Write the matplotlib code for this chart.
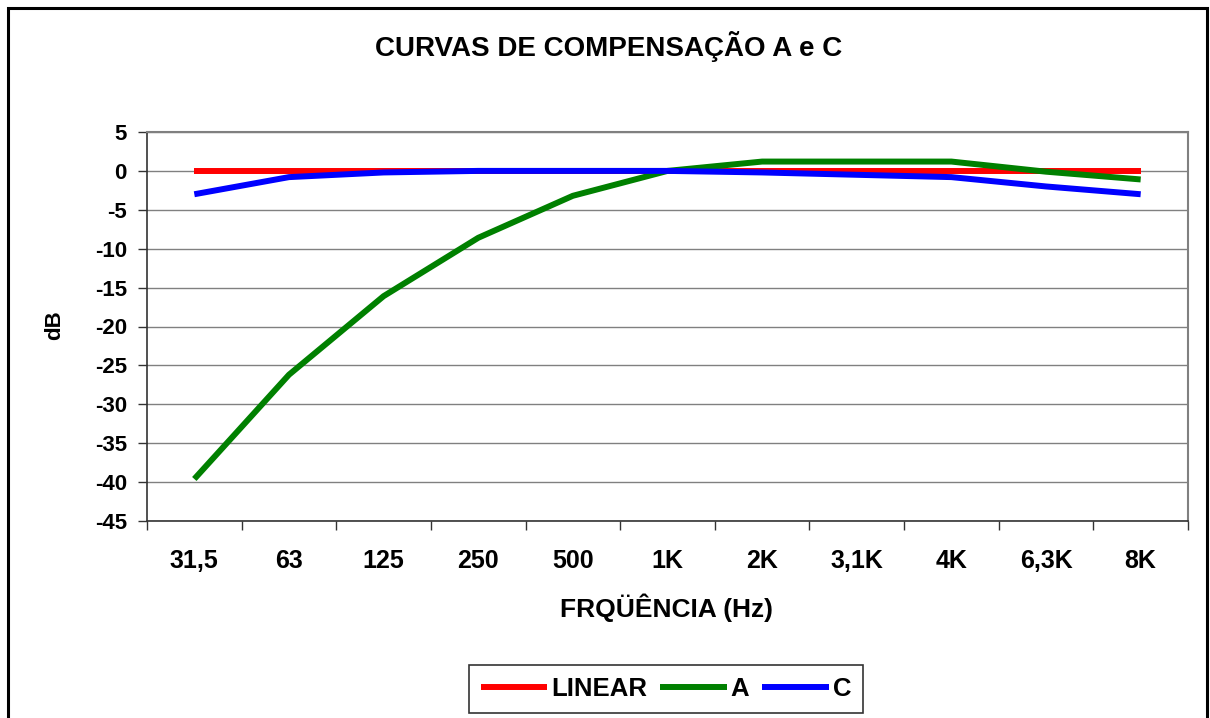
import matplotlib
matplotlib.use('Agg')
import matplotlib.pyplot as plt
from matplotlib.patches import Rectangle

# frequency bands and weighting values (dB)
freqs = ['31,5', '63', '125', '250', '500', '1K', '2K', '3,1K', '4K', '6,3K', '8K']
linear = [0, 0, 0, 0, 0, 0, 0, 0, 0, 0, 0]
curve_a = [-39.6, -26.2, -16.1, -8.6, -3.2, 0, 1.2, 1.2, 1.2, -0.1, -1.1]
curve_c = [-3.0, -0.8, -0.2, 0, 0, 0, -0.2, -0.5, -0.8, -2.0, -3.0]
yticks = [-45, -40, -35, -30, -25, -20, -15, -10, -5, 0, 5]

plt.rcParams['font.family'] = ['Liberation Sans', 'DejaVu Sans']
plt.rcParams['font.weight'] = 'bold'

W, H = 1210, 718
fig = plt.figure(figsize=(W / 100, H / 100), dpi=100)
ax = fig.add_axes([147 / W, 1 - 521 / H, (1188 - 147) / W, (521 - 132) / H])

x = list(range(len(freqs)))
ax.plot(x, linear, color='#ff0000', lw=4.3, label='LINEAR', solid_capstyle='butt', zorder=3)
ax.plot(x, curve_a, color='#008000', lw=4.3, label='A', solid_capstyle='butt', zorder=3)
ax.plot(x, curve_c, color='#0000ff', lw=4.3, label='C', solid_capstyle='butt', zorder=4)

ax.set_xlim(-0.5, len(freqs) - 0.5)
ax.set_ylim(-45, 5)
ax.set_yticks(yticks)
ax.set_yticklabels([str(v) for v in yticks], fontsize=16, fontweight='bold')
ax.yaxis.grid(True, color='#808080', lw=1.0)
ax.set_axisbelow(True)
ax.tick_params(axis='y', direction='out', length=6.5, width=1, pad=8, color='#333333')

# category ticks between bands, labels centred on bands
ax.set_xticks([i - 0.5 for i in range(len(freqs) + 1)])
ax.set_xticklabels([])
ax.set_xticks(x, minor=True)
ax.set_xticklabels(freqs, minor=True, fontsize=18, fontweight='bold')
ax.tick_params(axis='x', which='major', direction='out', length=6.5, width=1, color='#333333')
ax.tick_params(axis='x', which='minor', length=0, pad=20)

for s in ['top', 'right']:
    ax.spines[s].set_color('#808080')
    ax.spines[s].set_linewidth(1.5)
for s in ['left', 'bottom']:
    ax.spines[s].set_color('#333333')
    ax.spines[s].set_linewidth(1.2)

fig.text(609 / W, 1 - 47 / H, 'CURVAS DE COMPENSAÇÃO A e C', ha='center', va='center',
         fontsize=20, fontweight='bold')
fig.text(667 / W, 1 - 608 / H, 'FRQÜÊNCIA (Hz)', ha='center', va='center',
         fontsize=19, fontweight='bold')
fig.text(55 / W, 1 - 325 / H, 'dB', ha='center', va='center', rotation=90,
         fontsize=16, fontweight='bold')

leg = fig.legend(loc='center', bbox_to_anchor=(666 / W, 1 - 689 / H), ncol=3,
                 fontsize=18.5, handlelength=2.6, handletextpad=0.15, columnspacing=0.5,
                 borderpad=0.45, fancybox=False, frameon=True)
leg.get_frame().set_edgecolor('black')
leg.get_frame().set_linewidth(1.2)
for t in leg.get_texts():
    t.set_fontweight('bold')

# outer chart border
fig.patches.append(Rectangle((8 / W, -0.05), (1207 - 8) / W, 1.05 - 8 / H,
                             transform=fig.transFigure, fill=False,
                             edgecolor='black', lw=2.2, clip_on=False))

fig.savefig('out.png', dpi=100)
